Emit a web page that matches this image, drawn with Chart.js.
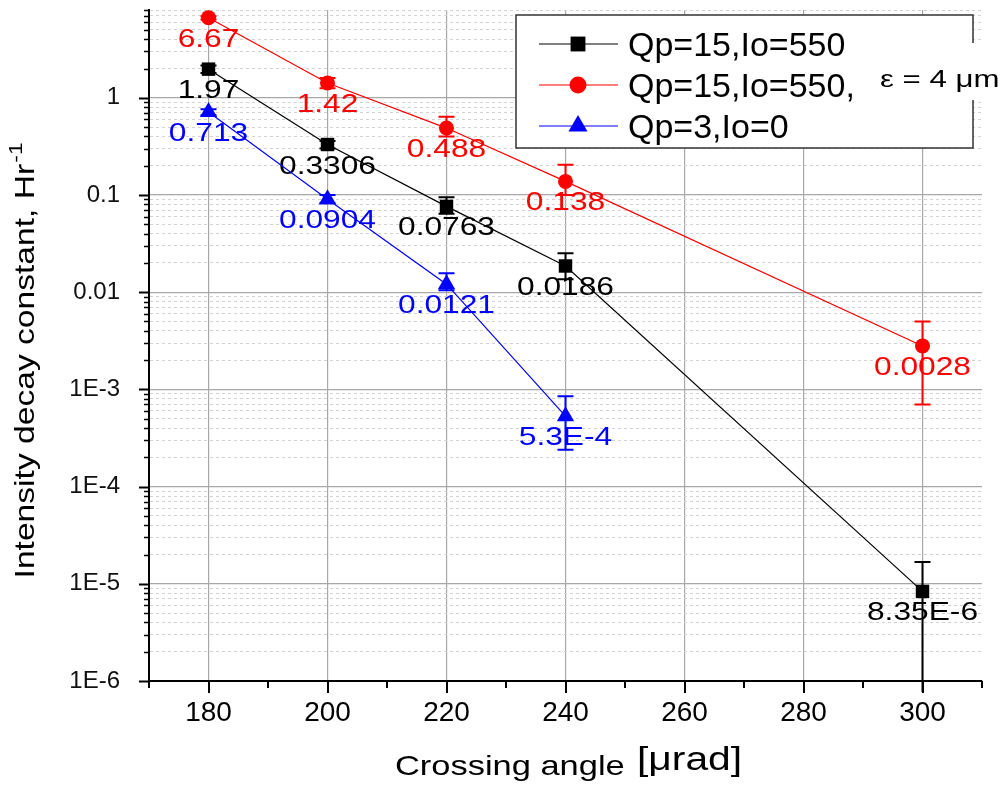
<!DOCTYPE html>
<html>
<head>
<meta charset="utf-8">
<script src="https://cdn.jsdelivr.net/npm/chart.js@4.4.1/dist/chart.umd.min.js"></script>
<style>
  html, body { margin: 0; padding: 0; background: #fff; }
  #wrap { width: 1003px; height: 787px; }
</style>
</head>
<body>
<div id="wrap"><canvas id="chart"></canvas></div>
<script>
// crossing angle, urad
const angles = [180, 200, 220, 240, 300];
const anglesBlue = [180, 200, 220, 240];

// Qp=15, Io=550 (black)
const blackVals = [1.97, 0.3306, 0.0763, 0.0186, 8.35e-6];
const blackHi = [2.15, 0.36, 0.095, 0.0251, 1.68e-5];
const blackLo = [1.8, 0.3, 0.064, 0.0136, 7.7e-7];
const blackText = ['1.97', '0.3306', '0.0763', '0.0186', '8.35E-6'];

// Qp=15, Io=550, eps = 4 um (red)
const redVals = [6.67, 1.42, 0.488, 0.138, 0.0028];
const redHi = [6.9, 1.6, 0.638, 0.205, 0.005];
const redLo = [6.4, 1.25, 0.4, 0.1, 7.0e-4];
const redText = ['6.67', '1.42', '0.488', '0.138', '0.0028'];

// Qp=3, Io=0 (blue)
const blueVals = [0.713, 0.0904, 0.0121, 5.3e-4];
const blueHi = [0.76, 0.1, 0.0157, 8.5e-4];
const blueLo = [0.66, 0.082, 0.0105, 2.4e-4];
const blueText = ['0.713', '0.0904', '0.0121', '5.3E-4'];

const xTicks = [180, 200, 220, 240, 260, 280, 300];
const decades = [1e-6, 1e-5, 1e-4, 1e-3, 0.01, 0.1, 1];
const decadeLabels = ['1E-6', '1E-5', '1E-4', '1E-3', '0.01', '0.1', '1'];

const FONT = '"Liberation Sans", Arial, sans-serif';

function pts(xs, ys) {
  return xs.map((x, i) => ({ x: x, y: ys[i] }));
}

// text with a horizontal stretch, like the original figure
function wideText(ctx, text, x, y, sx, size, color, align) {
  ctx.save();
  ctx.font = size + 'px ' + FONT;
  ctx.fillStyle = color;
  ctx.textBaseline = 'alphabetic';
  ctx.textAlign = 'left';
  const w = ctx.measureText(text).width * sx;
  const x0 = align === 'center' ? x - w / 2 : x;
  ctx.translate(x0, y);
  ctx.scale(sx, 1);
  ctx.fillText(text, 0, 0);
  ctx.restore();
  return w;
}

const series = [
  { label: 'Qp=15,Io=550', color: '#000000', xs: angles, vals: blackVals, hi: blackHi, lo: blackLo, text: blackText,
    style: 'rect', r: 9.5, lr: 10.5 },
  { label: 'Qp=15,Io=550,', color: '#ff0000', xs: angles, vals: redVals, hi: redHi, lo: redLo, text: redText,
    style: 'circle', r: 7.5, lr: 8.5 },
  { label: 'Qp=3,Io=0', color: '#0000ff', xs: anglesBlue, vals: blueVals, hi: blueHi, lo: blueLo, text: blueText,
    style: 'triangle', r: 10, lr: 11 }
];

const decor = {
  id: 'decor',
  beforeDatasetsDraw(chart) {
    const ctx = chart.ctx;
    const ys = chart.scales.y;
    // value labels under the points
    series.forEach((s, di) => {
      const meta = chart.getDatasetMeta(di);
      meta.data.forEach((p, i) => {
        wideText(ctx, s.text[i], p.x, p.y + 29, 1.22, 26, s.color, 'center');
      });
    });
    // error bars
    series.forEach((s, di) => {
      const meta = chart.getDatasetMeta(di);
      ctx.save();
      ctx.strokeStyle = s.color;
      ctx.lineWidth = 2;
      meta.data.forEach((p, i) => {
        const yh = ys.getPixelForValue(s.hi[i]);
        const yl = ys.getPixelForValue(s.lo[i]);
        ctx.beginPath();
        ctx.moveTo(p.x, yh);
        ctx.lineTo(p.x, yl);
        ctx.moveTo(p.x - 8, yh);
        ctx.lineTo(p.x + 8, yh);
        if (s.lo[i] >= ys.min) {
          ctx.moveTo(p.x - 8, yl);
          ctx.lineTo(p.x + 8, yl);
        }
        ctx.stroke();
      });
      ctx.restore();
    });
  },
  afterDraw(chart) {
    const ctx = chart.ctx;
    const xs = chart.scales.x;
    const ys = chart.scales.y;
    const area = chart.chartArea;

    // axis ticks, outward
    ctx.save();
    ctx.strokeStyle = '#000';
    ys.ticks.forEach(t => {
      const major = decades.indexOf(t.value) >= 0;
      const y = Math.round(ys.getPixelForValue(t.value)) + 0.5;
      ctx.lineWidth = major ? 2 : 1.5;
      ctx.beginPath();
      ctx.moveTo(area.left - (major ? 10 : 5), y);
      ctx.lineTo(area.left, y);
      ctx.stroke();
    });
    xs.ticks.forEach(t => {
      const major = xTicks.indexOf(t.value) >= 0;
      const x = Math.round(xs.getPixelForValue(t.value));
      ctx.lineWidth = 2;
      ctx.beginPath();
      ctx.moveTo(x, area.bottom);
      ctx.lineTo(x, area.bottom + (major ? 12 : 7));
      ctx.stroke();
    });
    ctx.restore();

    // legend box
    ctx.save();
    ctx.fillStyle = '#fff';
    ctx.fillRect(516, 15, 457, 133);
    ctx.strokeStyle = '#333';
    ctx.lineWidth = 1.5;
    ctx.strokeRect(516, 15, 457, 133);
    series.forEach((s, i) => {
      const y = 44 + i * 41;
      ctx.strokeStyle = s.color;
      ctx.lineWidth = 1.2;
      ctx.beginPath();
      ctx.moveTo(539, y);
      ctx.lineTo(618, y);
      ctx.stroke();
      ctx.fillStyle = s.color;
      Chart.helpers.drawPoint(ctx, { pointStyle: s.style, radius: s.lr, rotation: 0, borderWidth: 0 }, 578, y);
      ctx.font = '34px ' + FONT;
      ctx.fillStyle = '#000';
      ctx.textBaseline = 'alphabetic';
      ctx.textAlign = 'left';
      ctx.fillText(s.label, 628, y + 12);
    });
    ctx.restore();

    // pasted note over the legend edge
    ctx.save();
    ctx.fillStyle = '#fff';
    ctx.fillRect(860, 43, 143, 57);
    ctx.restore();
    wideText(ctx, 'ε = 4 μm', 880, 87, 1.3, 24, '#000', 'left');

    // y axis title with superscript
    ctx.save();
    ctx.translate(34, 361);
    ctx.rotate(-Math.PI / 2);
    ctx.scale(1.2, 1);
    ctx.fillStyle = '#000';
    ctx.textBaseline = 'alphabetic';
    ctx.textAlign = 'left';
    const main = 'Intensity decay constant, Hr';
    ctx.font = '28px ' + FONT;
    const w1 = ctx.measureText(main).width;
    ctx.font = '19px ' + FONT;
    const w2 = ctx.measureText('-1').width;
    const x0 = -(w1 + w2) / 2;
    ctx.font = '28px ' + FONT;
    ctx.fillText(main, x0, 0);
    ctx.font = '19px ' + FONT;
    ctx.fillText('-1', x0 + w1 + 1, -12);
    ctx.restore();

    // x axis title
    wideText(ctx, 'Crossing angle', 395, 775, 1.23, 28, '#000', 'left');
    wideText(ctx, '[μrad]', 637, 770, 1.2, 34, '#000', 'left');
  }
};

new Chart(document.getElementById('chart'), {
  type: 'line',
  data: {
    datasets: series.map(s => ({
      label: s.label,
      data: pts(s.xs, s.vals),
      borderColor: s.color,
      backgroundColor: s.color,
      borderWidth: 1.2,
      pointStyle: s.style,
      pointRadius: s.r,
      pointBorderWidth: 0,
      tension: 0,
      clip: false
    }))
  },
  options: {
    responsive: true,
    maintainAspectRatio: false,
    animation: false,
    devicePixelRatio: 1,
    layout: { padding: { top: 10, right: 21, left: 0, bottom: 0 } },
    plugins: {
      legend: { display: false },
      tooltip: { enabled: false }
    },
    scales: {
      x: {
        type: 'linear',
        min: 170,
        max: 310,
        afterFit(scale) { scale.height = 106; },
        ticks: {
          stepSize: 10,
          autoSkip: false,
          maxRotation: 0,
          padding: 15,
          color: '#000',
          font: { family: FONT, size: 28 },
          callback: (v) => xTicks.indexOf(v) >= 0 ? String(v) : ''
        },
        grid: {
          drawTicks: false,
          lineWidth: 1.2,
          color: (c) => c.tick && xTicks.indexOf(c.tick.value) >= 0 ? '#a8a8a8' : 'rgba(0,0,0,0)'
        },
        border: { display: true, color: '#000', width: 2 }
      },
      y: {
        type: 'logarithmic',
        min: 1e-6,
        max: 8,
        afterFit(scale) { scale.width = 149; },
        afterBuildTicks(scale) {
          const t = [];
          decades.forEach(d => {
            for (let m = 1; m <= 9; m++) {
              const v = m * d;
              if (v <= scale.max * 1.0001) t.push({ value: v });
            }
          });
          scale.ticks = t;
        },
        ticks: {
          autoSkip: false,
          padding: 0,
          color: '#111',
          font: { family: FONT, size: 24, lineHeight: 0.7 },
          callback: (v) => {
            const i = decades.indexOf(v);
            return i >= 0 ? decadeLabels[i] : '';
          }
        },
        grid: {
          drawTicks: true,
          tickLength: 29,
          tickColor: 'rgba(0,0,0,0)',
          lineWidth: (c) => c.tick && decades.indexOf(c.tick.value) >= 0 ? 1.2 : 1,
          color: (c) => c.tick && decades.indexOf(c.tick.value) >= 0 ? '#a8a8a8' : '#d2d2d2'
        },
        border: {
          display: true, color: '#000', width: 2,
          dash: (c) => c.tick && decades.indexOf(c.tick.value) < 0 ? [3, 3] : []
        }
      }
    }
  },
  plugins: [decor]
});
</script>
</body>
</html>
